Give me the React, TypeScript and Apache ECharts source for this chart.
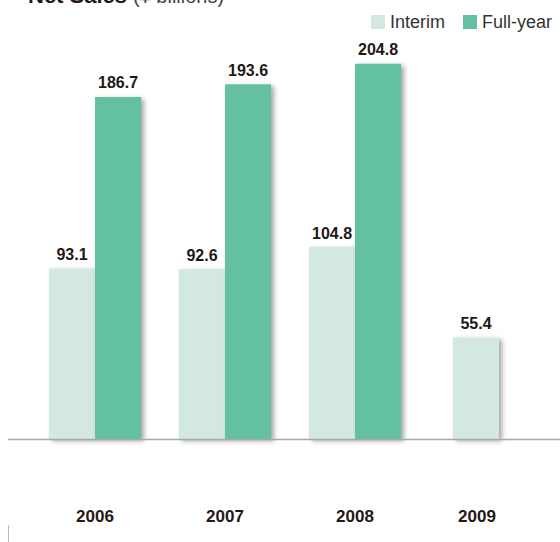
import React, { useEffect, useRef } from "react";
import * as echarts from "echarts";

const categories = ["2006", "2007", "2008", "2009"];
const interimValues: number[] = [93.1, 92.6, 104.8, 55.4];
const fullYearValues: (number | null)[] = [186.7, 193.6, 204.8, null];
const legendNames = ["Interim", "Full-year"];
const titleMain = "Net Sales";
const titleUnit = "(¥ billions)";

const INTERIM_COLOR = "#d3e9df";
const FULL_COLOR = "#64c0a0";
const TEXT_DARK = "#231815";
const FONT = "'Liberation Sans', Arial, sans-serif";

export default function App() {
  const ref = useRef<HTMLDivElement>(null);

  useEffect(() => {
    if (!ref.current) return;
    const chart = echarts.init(ref.current, undefined, { renderer: "svg" });

    const pairedInterim = interimValues.map((v, i) => (fullYearValues[i] == null ? "-" : v));
    const soloInterim = interimValues.map((v, i) => (fullYearValues[i] == null ? v : "-"));
    const fullData = fullYearValues.map((v) => (v == null ? "-" : v));

    const shadow = {
      shadowColor: "rgba(0,0,0,0.35)",
      shadowBlur: 5,
      shadowOffsetX: 3,
      shadowOffsetY: 2,
    };
    const label = {
      show: true,
      position: "top",
      distance: 6,
      color: TEXT_DARK,
      fontSize: 16,
      fontWeight: "bold",
      fontFamily: FONT,
    };

    chart.setOption({
      animation: false,
      textStyle: { fontFamily: FONT },
      grid: { left: 30, right: 10, top: 36, bottom: 103 },
      legend: {
        data: legendNames,
        right: 3,
        top: 8,
        icon: "rect",
        itemWidth: 14,
        itemHeight: 14,
        itemGap: 18,
        selectedMode: false,
        textStyle: { fontSize: 18, color: "#333", fontFamily: FONT },
      },
      xAxis: [
        {
          type: "category",
          data: categories,
          axisLine: { show: false },
          axisTick: { show: false },
          axisLabel: {
            margin: 69,
            formatter: (v: string) => (v === "2009" ? "{s|" + v + "}" : "{n|" + v + "}"),
            rich: {
              n: { fontSize: 17, fontWeight: "bold", color: TEXT_DARK, fontFamily: FONT },
              s: {
                fontSize: 17,
                fontWeight: "bold",
                color: TEXT_DARK,
                fontFamily: FONT,
                padding: [0, 16, 0, 0],
              },
            },
          },
        },
        {
          type: "category",
          data: categories,
          show: false,
        },
      ],
      yAxis: {
        type: "value",
        min: 0,
        max: 220,
        show: false,
        splitLine: { show: false },
      },
      series: [
        {
          name: "Interim",
          type: "bar",
          xAxisIndex: 0,
          data: pairedInterim,
          barWidth: 46,
          barGap: "0%",
          itemStyle: { color: INTERIM_COLOR, ...shadow },
          label,
        },
        {
          name: "Full-year",
          type: "bar",
          xAxisIndex: 0,
          data: fullData,
          barWidth: 46,
          itemStyle: { color: FULL_COLOR, ...shadow },
          label,
        },
        {
          name: "Interim",
          type: "bar",
          xAxisIndex: 1,
          data: soloInterim,
          barWidth: 46,
          barGap: "0%",
          itemStyle: { color: INTERIM_COLOR, ...shadow },
          label,
        },
        {
          name: "spacer",
          type: "bar",
          xAxisIndex: 1,
          data: categories.map(() => "-"),
          barWidth: 18,
          silent: true,
          itemStyle: { color: "transparent" },
        },
      ],
      graphic: [
        {
          type: "text",
          x: 28,
          y: -5,
          style: {
            text: titleMain,
            font: "bold 22px " + FONT,
            fill: TEXT_DARK,
            verticalAlign: "middle",
          },
        },
        {
          type: "text",
          x: 133,
          y: -4,
          style: {
            text: titleUnit,
            font: "20px " + FONT,
            fill: "#444",
            verticalAlign: "middle",
          },
        },
        {
          type: "line",
          z: 10,
          shape: { x1: 8, y1: 439.5, x2: 560, y2: 439.5 },
          style: { stroke: "#a8a8a8", lineWidth: 1.5 },
        },
        {
          type: "line",
          shape: { x1: 8.5, y1: 525, x2: 8.5, y2: 542 },
          style: { stroke: "#bbbbbb", lineWidth: 1 },
        },
      ],
    });

    return () => chart.dispose();
  }, []);

  return (
    <div
      ref={ref}
      style={{ position: "fixed", left: 0, top: 0, width: 560, height: 542, background: "#fff" }}
    />
  );
}
